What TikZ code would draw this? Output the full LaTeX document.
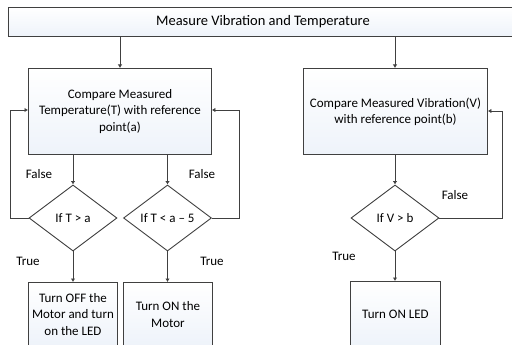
\documentclass[tikz,border=0pt]{standalone}
\usepackage{fontspec}
\setmainfont{Carlito}
\usetikzlibrary{arrows.meta,shapes.geometric}
\definecolor{linegray}{RGB}{64,64,64}
\definecolor{boxlow}{RGB}{238,243,250}
\tikzset{
  x=1pt, y=-1pt,
  wire/.style={draw=linegray, line width=0.9pt},
  arr/.style={wire, -{Latex[length=3.5pt,width=4.5pt]}},
  procbox/.style={draw=linegray, line width=0.9pt, top color=white, bottom color=boxlow,
    rectangle, inner sep=0pt, align=center, font=\fontsize{13}{16.2}\selectfont},
  decide/.style={draw=linegray, line width=0.9pt, fill=white,
    diamond, inner sep=0pt, minimum width=88pt, minimum height=66pt, aspect=1.33,
    font=\fontsize{13}{16}\selectfont},
  lbl/.style={font=\fontsize{13}{16}\selectfont, inner sep=0pt}
}
\begin{document}
\begin{tikzpicture}
\useasboundingbox (0,0) rectangle (512,345);
\clip (0,0) rectangle (512,345);
\fill[white] (0,0) rectangle (512,345);

% top process box
\node[procbox, font=\fontsize{14.5}{16}\selectfont, minimum width=510pt, minimum height=29pt,
  anchor=north west] (measure) at (7.5,7) {Measure Vibration and Temperature};

% comparison boxes
\node[procbox, minimum width=183pt, minimum height=86pt, anchor=north west] (cmpT) at (28,68)
  {Compare Measured\\Temperature(T) with reference\\point(a)};
\node[procbox, minimum width=184pt, minimum height=86pt, anchor=north west] (cmpV) at (303,68)
  {Compare Measured Vibration(V)\\with reference point(b)};

% decisions
\node[decide] (dTa) at (73,218) {If T > a};
\node[decide] (dTb) at (167.5,218) {If T < a -- 5};
\node[decide] (dV)  at (395,218) {If V > b};

% action boxes (run past the lower edge)
\node[procbox, minimum width=89pt, minimum height=64pt, anchor=north west] (off) at (28,282)
  {Turn OFF the\\Motor and turn\\on the LED};
\node[procbox, minimum width=89pt, minimum height=64pt, anchor=north west] (on) at (123,282)
  {Turn ON the\\Motor};
\node[procbox, minimum width=90pt, minimum height=66pt, anchor=north west] (led) at (350,281)
  {Turn ON LED};

% flow from measurement
\draw[arr] (measure.south -| 120,0) -- (cmpT.north -| 120,0);
\draw[arr] (measure.south -| 395,0) -- (cmpV.north -| 395,0);

% into decisions
\draw[arr] (cmpT.south -| dTa.north) -- (dTa.north);
\draw[arr] (cmpT.south -| dTb.north) -- (dTb.north);
\draw[arr] (cmpV.south -| dV.north) -- (dV.north);

% true branches
\draw[arr] (dTa.south) -- (off.north -| dTa.south);
\draw[arr] (dTb.south) -- (on.north -| dTb.south);
\draw[arr] (dV.south) -- (led.north -| dV.south);

% false loops
\coordinate (la) at (10,218);
\coordinate (lb) at (10,110);
\draw[arr] (dTa.west) -- (la) -- (lb) -- (cmpT.west |- lb);
\coordinate (ra) at (239,218);
\coordinate (rb) at (239,110);
\draw[arr] (dTb.east) -- (ra) -- (rb) -- (cmpT.east |- rb);
\coordinate (va) at (502,218);
\coordinate (vb) at (502,111);
\draw[arr] (dV.east) -- (va) -- (vb) -- (cmpV.east |- vb);

% branch labels
\node[lbl] (f1) at (39,174) {False};
\node[lbl] (f2) at (202,174) {False};
\node[lbl] (f3) at (455,195) {False};
\node[lbl] (t1) at (28,261) {True};
\node[lbl] (t2) at (212,261) {True};
\node[lbl] (t3) at (344,256) {True};
\end{tikzpicture}
\end{document}
